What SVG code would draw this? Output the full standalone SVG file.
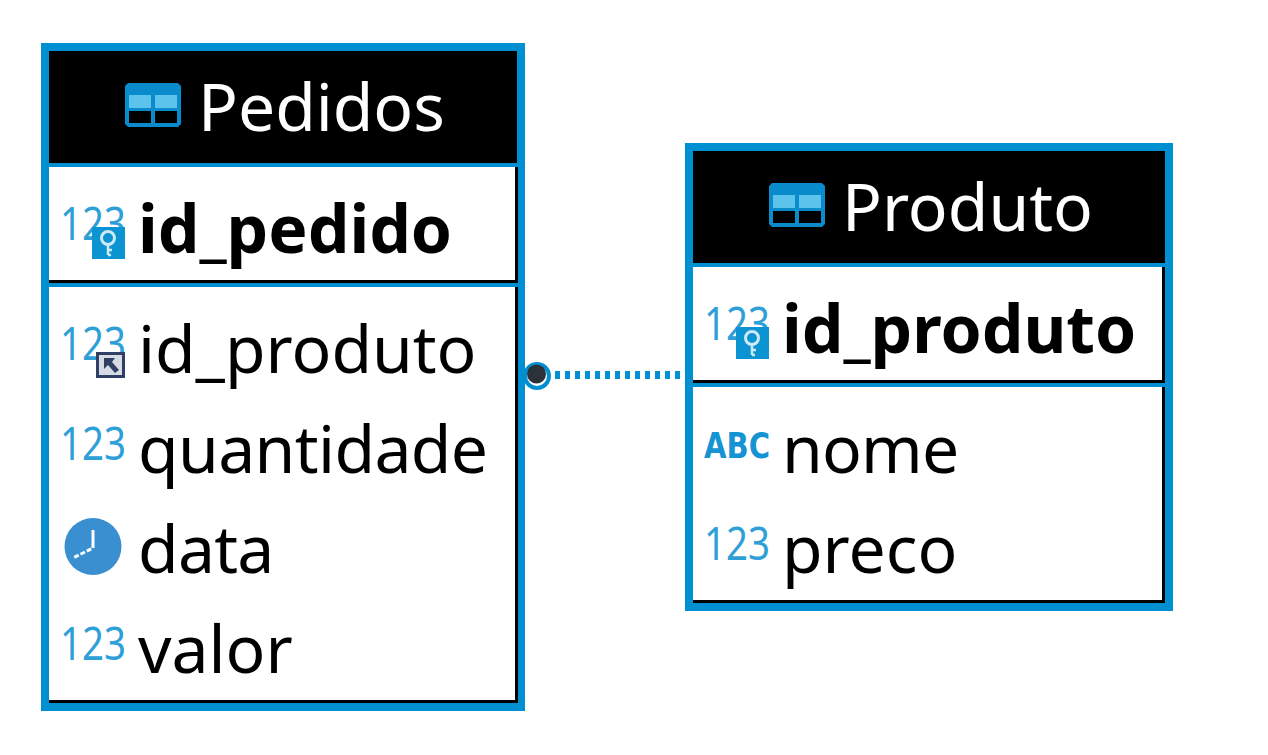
<svg xmlns="http://www.w3.org/2000/svg" width="1268" height="755" viewBox="0 0 1268 755">
<style>
.t{font-family:"Noto Sans","Open Sans",sans-serif;font-size:66px;fill:#000}
.b{font-weight:700}
.h{fill:#fff}
.n{font-family:"Noto Sans",sans-serif;font-size:46px;fill:#2f9fd8}
.abc{font-family:"DejaVu Sans",sans-serif;font-weight:700;font-size:36px;fill:#1593d3}
.blue{fill:#0090d1}
.blk{fill:#000}
</style>
<defs>
<g id="tbl"><path d="M3 0H53L56 3V41L53 44H3L0 41V3Z" fill="#0a8ccc"/><rect x="4" y="12" width="22" height="13" fill="#5cc3ec"/><rect x="30" y="12" width="22" height="13" fill="#5cc3ec"/><rect x="4" y="28" width="22" height="12" fill="#000"/><rect x="30" y="28" width="22" height="12" fill="#000"/></g>
<g id="key"><rect x="32" y="21" width="33" height="32" fill="#0c93d2"/><circle cx="48" cy="32" r="6.500" fill="none" stroke="#cfe9f6" stroke-width="3"/><path d="M48 38V49M48 44h4M48 49h3" fill="none" stroke="#cfe9f6" stroke-width="2.500"/></g>
</defs>
<rect width="1268" height="755" fill="#fff"/>
<g id="connectors">
<line x1="555" y1="375" x2="680" y2="375" stroke="#0090d1" stroke-width="8" stroke-dasharray="5 5"/>
<circle cx="537" cy="376" r="12" fill="#fff" stroke="#0090d1" stroke-width="4"/>
<circle cx="536.500" cy="374" r="9.500" fill="#2c3338"/>
</g>
<g id="pedidos">
<rect class="blue" x="41" y="43" width="484" height="668"/>
<rect class="blk" x="49" y="51" width="468" height="112"/>
<rect class="blk" x="49" y="167" width="469" height="116"/>
<rect x="49" y="167" width="466" height="113" fill="#fff"/>
<rect class="blk" x="49" y="287" width="469" height="416"/>
<rect x="49" y="287" width="466" height="413" fill="#fff"/>
<use href="#tbl" x="125" y="83"/>
<text class="t h" x="198" y="131">Pedidos</text>
<text class="n" x="60" y="240" textLength="66" lengthAdjust="spacingAndGlyphs">123</text><use href="#key" x="60" y="206"/>
<text class="t b" x="138" y="253">id_pedido</text>
<text class="n" x="60" y="360" textLength="66" lengthAdjust="spacingAndGlyphs">123</text>
<g><rect x="96" y="352" width="29" height="26" fill="#2f3f66"/><rect x="99" y="355" width="23" height="20" fill="#d6dbe4"/><path d="M104 358l11 0-3 4 7 8-4 3-7-8-4 4z" fill="#2f3f66"/></g>
<text class="t" x="138" y="373">id_produto</text>
<text class="n" x="60" y="460" textLength="66" lengthAdjust="spacingAndGlyphs">123</text>
<text class="t" x="138" y="473" letter-spacing="-.6">quantidade</text>
<circle cx="93" cy="546.500" r="28.500" fill="#3a8fd0"/><path d="M93 530V548L73 558" fill="none" stroke="#fff" stroke-width="3" stroke-dasharray="18 2 5 2 5 2 5"/>
<text class="t" x="138" y="573" letter-spacing="-.7">data</text>
<text class="n" x="60" y="660" textLength="66" lengthAdjust="spacingAndGlyphs">123</text>
<text class="t" x="138" y="673">valor</text>
</g>
<g id="produto">
<rect class="blue" x="685" y="143" width="488" height="468"/>
<rect class="blk" x="693" y="151" width="472" height="112"/>
<rect class="blk" x="693" y="267" width="472" height="116"/>
<rect x="693" y="267" width="469" height="113" fill="#fff"/>
<rect class="blk" x="693" y="387" width="472" height="216"/>
<rect x="693" y="387" width="469" height="213" fill="#fff"/>
<use href="#tbl" x="769" y="183"/>
<text class="t h" x="842" y="231">Produto</text>
<text class="n" x="704" y="340" textLength="66" lengthAdjust="spacingAndGlyphs">123</text><use href="#key" x="704" y="306"/>
<text class="t b" x="782" y="353">id_produto</text>
<text class="abc" x="704" y="458" textLength="66" lengthAdjust="spacingAndGlyphs">ABC</text>
<text class="t" x="782" y="473" letter-spacing="-.8">nome</text>
<text class="n" x="704" y="560" textLength="66" lengthAdjust="spacingAndGlyphs">123</text>
<text class="t" x="782" y="573">preco</text>
</g>
</svg>
